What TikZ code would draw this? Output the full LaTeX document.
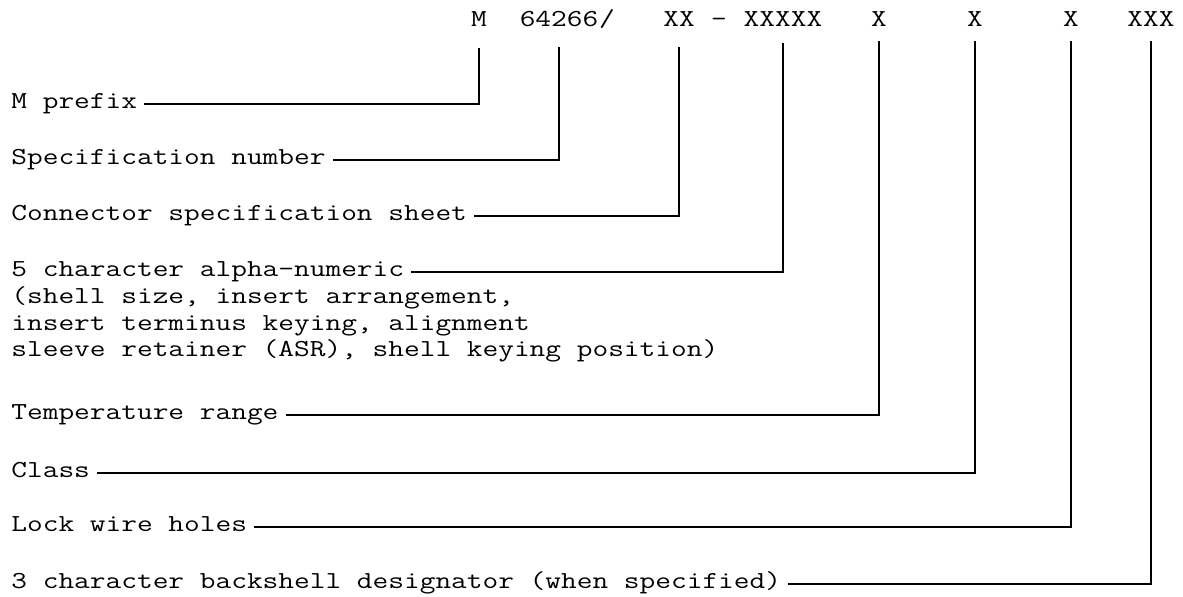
\documentclass[tikz,border=0pt]{standalone}
\usepackage{fontspec}
\setmonofont[FakeStretch=1.25]{Latin Modern Mono}
\usepackage{tikz}
\usetikzlibrary{positioning}
\newcommand{\partfont}{\ttfamily\fontsize{12.2}{13.25}\selectfont}
\tikzset{
  codepart/.style={font=\partfont,inner sep=0pt,anchor=base},
  partlabel/.style={font=\partfont,inner xsep=3.5pt,inner ysep=0pt,anchor=mid west,align=left},
  leaderline/.style={line width=0.9pt,draw=black}
}

\begin{document}
\begin{tikzpicture}[x=0.5pt,y=-0.5pt]
  \useasboundingbox (0,0) rectangle (1183,597);
  % part number line
  \node[codepart] (cM) at (479,27) {M};
  \node[codepart] (cSpec) at (559,27) {64266};
  \node[codepart] (slash) at (607,27) {/};
  \node[codepart] (cSheet) at (679,27) {XX};
  \node[codepart] (dash) at (719,27) {–};
  \node[codepart] (cCode) at (783,27) {XXXXX};
  \node[codepart] (cTemp) at (879,27) {X};
  \node[codepart] (cClass) at (975,27) {X};
  \node[codepart] (cLock) at (1071,27) {X};
  \node[codepart] (cBack) at (1151,27) {XXX};
  % field names
  \node[partlabel] (lM) at (4,104) {M prefix};
  \node[partlabel] (lSpec) at (4,160) {Specification number};
  \node[partlabel] (lSheet) at (4,216) {Connector specification sheet};
  \node[partlabel] (lCode) at (4,272) {5 character alpha-numeric};
  \node[partlabel,anchor=base west] (lCodeNote) at (4,357)
    {(shell size, insert arrangement,\\insert terminus keying, alignment\\sleeve retainer (ASR), shell keying position)};
  \node[partlabel] (lTemp) at (4,415) {Temperature range};
  \node[partlabel] (lClass) at (4,473) {Class};
  \node[partlabel] (lLock) at (4,527) {Lock wire holes};
  \node[partlabel] (lBack) at (4,584) {3 character backshell designator (when specified)};
  % leaders
  \foreach \l/\c/\t in {lM/cM/48,lSpec/cSpec/47,lSheet/cSheet/47,lCode/cCode/43,
      lTemp/cTemp/41,lClass/cClass/41,lLock/cLock/41,lBack/cBack/41}
    \draw[leaderline] (\l.mid east) -| (\c |- 0,\t);
\end{tikzpicture}
\end{document}
